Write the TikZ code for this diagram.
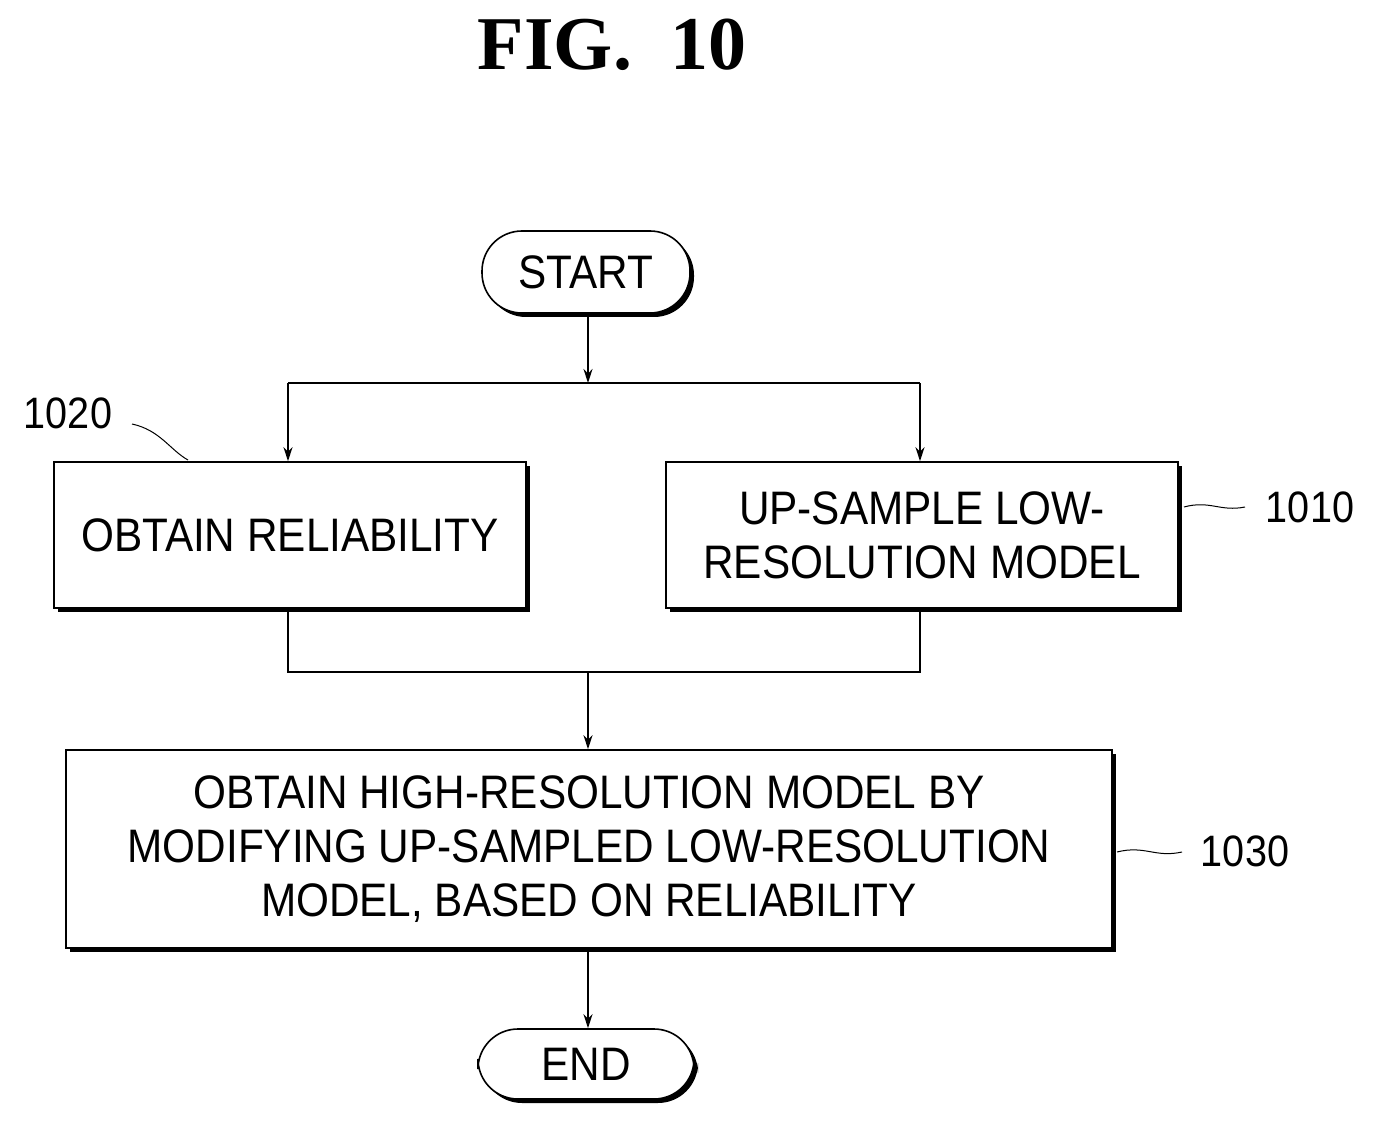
\documentclass[tikz,border=0pt]{standalone}
\usepackage{fontspec}
\setmainfont{Liberation Sans}[FakeStretch=0.9]
\newfontfamily\titlefont{Liberation Serif}
\usetikzlibrary{arrows.meta,shadows}
\begin{document}
\begin{tikzpicture}[x=1pt,y=-1pt,
  box/.style={draw,line width=1.6pt,fill=white,align=center,font=\fontsize{47}{54}\selectfont,inner sep=0pt,
     drop shadow={shadow xshift=4pt,shadow yshift=-4pt,fill=black,opacity=1}},
  term/.style={box,rounded corners=40pt},
  ln/.style={line width=1.6pt},
  arr/.style={ln,-{Stealth[length=14pt,width=9pt]}},
  lab/.style={font=\fontsize{44}{48}\selectfont}]
\useasboundingbox (0,0) rectangle (1383,1131);
\node[font=\titlefont\bfseries\fontsize{76}{76}\selectfont] (title) at (612,45) {FIG.\ \ 10};
\node[term,minimum width=208pt,minimum height=82pt] (start) at (586,272) {START};
\node[box,minimum width=472pt,minimum height=146pt] (b1020) at (290,535) {OBTAIN RELIABILITY};
\node[box,minimum width=512pt,minimum height=146pt] (b1010) at (922,535) {UP-SAMPLE LOW-\\RESOLUTION MODEL};
\node[box,minimum width=1046pt,minimum height=198pt] (b1030) at (589,849) {OBTAIN HIGH-RESOLUTION MODEL BY\\MODIFYING UP-SAMPLED LOW-RESOLUTION\\MODEL, BASED ON RELIABILITY};
\node[term,minimum width=216pt,minimum height=70pt] (end) at (586,1064) {END};
\coordinate (s) at (588,383);
\coordinate (j) at (588,672);
\draw[arr] (start.south -| s) -- (s);
\draw[ln] (288,383) -- (920,383);
\draw[arr] (288,383) -- (b1020.north -| 288,0);
\draw[arr] (920,383) -- (b1010.north -| 920,0);
\draw[ln] (b1020.south -| 288,0) -- (288,672) -- (920,672) -- (b1010.south -| 920,0);
\draw[arr] (j) -- (b1030.north -| j);
\draw[arr] (b1030.south -| j) -- (end.north -| j);
\node[lab] (l1020) at (68,413) {1020};
\node[lab] (l1010) at (1310,507) {1010};
\node[lab] (l1030) at (1245,851) {1030};
\draw[line width=1pt] (132,424) .. controls (160,430) and (170,450) .. (188,460);
\draw[line width=1pt] (1184,507) .. controls (1210,500) and (1220,512) .. (1245,507);
\draw[line width=1pt] (1117,852) .. controls (1145,845) and (1155,858) .. (1182,852);
\end{tikzpicture}
\end{document}
